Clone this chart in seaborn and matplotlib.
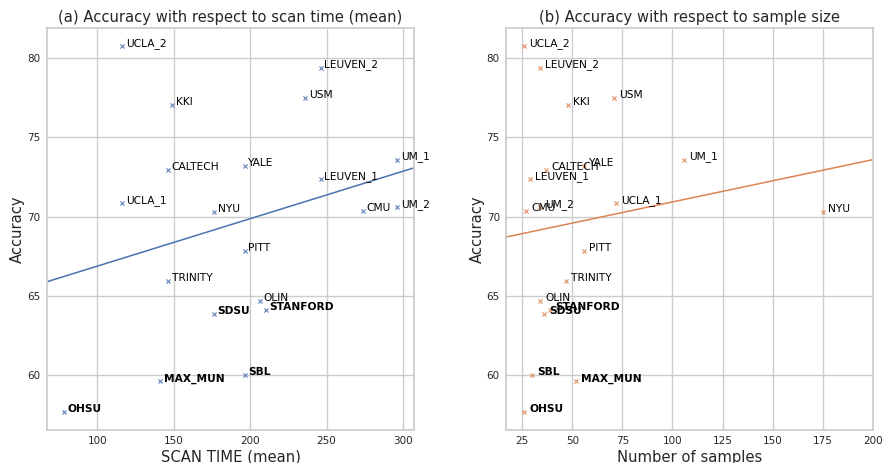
import pandas as pd
import seaborn as sns
import matplotlib.pyplot as plt

# per-site results
sites = ["UCLA_2", "LEUVEN_2", "KKI", "USM", "CALTECH", "YALE", "LEUVEN_1", "UM_1",
         "UM_2", "CMU", "UCLA_1", "NYU", "PITT", "TRINITY", "OLIN", "SDSU",
         "STANFORD", "SBL", "MAX_MUN", "OHSU"]
accuracy = [80.73, 79.39, 77.06, 77.45, 72.96, 73.21, 72.39, 73.59, 70.59, 70.38,
            70.84, 70.30, 67.85, 65.96, 64.70, 63.88, 64.09, 60.00, 59.62, 57.70]
scan_time = [116.3, 246.2, 149.0, 236.2, 146.3, 196.4, 246.2, 296.3, 296.3, 273.6,
             116.3, 176.4, 196.4, 146.3, 206.4, 176.4, 210.1, 196.4, 141.1, 78.0]
n_samples = [26, 34, 48, 71, 37, 56, 29, 106, 34, 27,
             72, 175, 56, 47, 34, 36, 39, 30, 52, 26]
bold_sites = ["SDSU", "STANFORD", "SBL", "MAX_MUN", "OHSU"]


def panel(ax, x, color, title, xlabel, xlim=None):
    df = pd.DataFrame({"x": x, "acc": accuracy, "site": sites})
    if xlim is not None:
        ax.set_xlim(xlim)
    sns.regplot(data=df, x="x", y="acc", ax=ax, ci=None, truncate=False,
                marker="x", color=color,
                scatter_kws={"s": 9, "linewidths": 0.9},
                line_kws={"linewidth": 1.1})
    for _, r in df.iterrows():
        ax.text(r["x"] + 2.4, r["acc"], r["site"], fontsize=7.7, color="black",
                fontweight="bold" if r["site"] in bold_sites else "normal")
    ax.set_title(title, fontsize=10.6, pad=4)
    ax.set_xlabel(xlabel, fontsize=10.6, labelpad=2.5)
    ax.set_ylabel("Accuracy", fontsize=10.6, labelpad=1.5)
    ax.set_yticks([60, 65, 70, 75, 80])
    ax.tick_params(labelsize=7.5, length=0, pad=4.6)


def main():
    sns.set_theme(style="whitegrid")
    plt.rcParams["font.family"] = ["DejaVu Sans"]

    fig, (ax1, ax2) = plt.subplots(1, 2, figsize=(8.84, 4.63), dpi=100)
    fig.subplots_adjust(left=0.053, right=0.988, top=0.9395, bottom=0.0713, wspace=0.251)

    palette = sns.color_palette("deep")
    panel(ax1, scan_time, palette[0], "(a) Accuracy with respect to scan time (mean)",
          "SCAN TIME (mean)")
    panel(ax2, n_samples, palette[1], "(b) Accuracy with respect to sample size",
          "Number of samples", xlim=(17, 200.3))
    ax2.set_xticks([25, 50, 75, 100, 125, 150, 175, 200])

    fig.savefig("out.png", dpi=100)


if __name__ == "__main__":
    main()
